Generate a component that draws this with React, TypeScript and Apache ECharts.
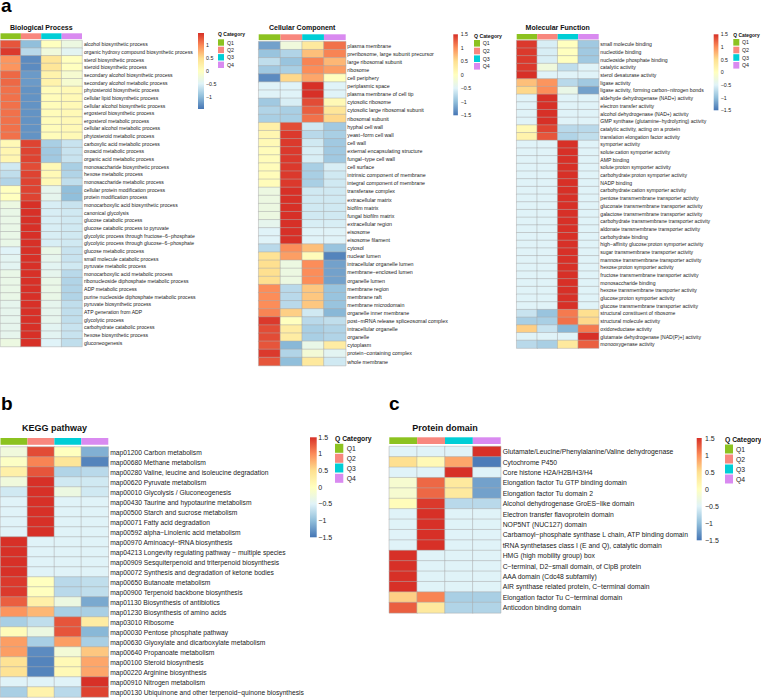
import React, { useEffect, useRef } from "react";
import * as echarts from "echarts";

const qCategories = ["Q1", "Q2", "Q3", "Q4"];
const qColors = ["#8CC220", "#F8877E", "#00CED6", "#D98AF0"];
const heatColors = ["#4575B4", "#91BFDB", "#E0F3F8", "#FFFFBF", "#FEE090", "#FC8D59", "#D73027"];

const bpTerms = [
  "alcohol biosynthetic process",
  "organic hydroxy compound biosynthetic process",
  "sterol biosynthetic process",
  "steroid biosynthetic process",
  "secondary alcohol biosynthetic process",
  "secondary alcohol metabolic process",
  "phytosteroid biosynthetic process",
  "cellular lipid biosynthetic process",
  "cellular alcohol biosynthetic process",
  "ergosterol biosynthetic process",
  "ergosterol metabolic process",
  "cellular alcohol metabolic process",
  "phytosteroid metabolic process",
  "carboxylic acid metabolic process",
  "oxoacid metabolic process",
  "organic acid metabolic process",
  "monosaccharide biosynthetic process",
  "hexose metabolic process",
  "monosaccharide metabolic process",
  "cellular protein modification process",
  "protein modification process",
  "monocarboxylic acid biosynthetic process",
  "canonical glycolysis",
  "glucose catabolic process",
  "glucose catabolic process to pyruvate",
  "glycolytic process through fructose−6−phosphate",
  "glycolytic process through glucose−6−phosphate",
  "glucose metabolic process",
  "small molecule catabolic process",
  "pyruvate metabolic process",
  "monocarboxylic acid metabolic process",
  "ribonucleoside diphosphate metabolic process",
  "ADP metabolic process",
  "purine nucleoside diphosphate metabolic process",
  "pyruvate biosynthetic process",
  "ATP generation from ADP",
  "glycolytic process",
  "carbohydrate catabolic process",
  "hexose biosynthetic process",
  "gluconeogenesis",
];
const bpValues = [
  [1.3, -1.0, 0.0, -0.3],
  [1.45, -0.75, -0.25, -0.45],
  [0.95, -1.35, 0.4, 0.0],
  [0.95, -1.35, 0.4, 0.0],
  [1.2, -1.25, 0.2, -0.15],
  [1.2, -1.25, 0.2, -0.15],
  [1.15, -1.3, 0.05, 0.1],
  [1.15, -1.3, 0.05, 0.1],
  [1.15, -1.3, 0.05, 0.1],
  [1.15, -1.3, 0.05, 0.1],
  [1.15, -1.3, 0.05, 0.1],
  [1.15, -1.3, 0.05, 0.1],
  [1.15, -1.3, 0.05, 0.1],
  [0.1, 1.4, -0.85, -0.65],
  [0.15, 1.4, -0.9, -0.65],
  [0.15, 1.4, -0.9, -0.65],
  [-0.6, 1.35, 0.1, -0.85],
  [-0.7, 1.4, 0.1, -0.8],
  [-0.8, 1.4, 0.1, -0.7],
  [0.0, 1.4, -0.4, -1.0],
  [0.0, 1.4, -0.4, -1.0],
  [-0.3, 1.5, -0.55, -0.65],
  [-0.35, 1.5, -0.55, -0.6],
  [-0.35, 1.5, -0.55, -0.6],
  [-0.35, 1.5, -0.55, -0.6],
  [-0.35, 1.5, -0.55, -0.6],
  [-0.35, 1.5, -0.55, -0.6],
  [-0.5, 1.5, -0.35, -0.65],
  [-0.45, 1.5, -0.4, -0.65],
  [-0.45, 1.5, -0.45, -0.6],
  [-0.35, 1.5, -0.4, -0.75],
  [-0.35, 1.5, -0.35, -0.8],
  [-0.35, 1.5, -0.35, -0.8],
  [-0.35, 1.5, -0.35, -0.8],
  [-0.4, 1.5, -0.4, -0.7],
  [-0.4, 1.5, -0.4, -0.7],
  [-0.4, 1.5, -0.4, -0.7],
  [-0.4, 1.5, -0.45, -0.65],
  [-0.4, 1.5, -0.45, -0.65],
  [-0.3, 1.5, -0.5, -0.7],
];

const ccTerms = [
  "plasma membrane",
  "preribosome, large subunit precursor",
  "large ribosomal subunit",
  "ribosome",
  "cell periphery",
  "periplasmic space",
  "plasma membrane of cell tip",
  "cytosolic ribosome",
  "cytosolic large ribosomal subunit",
  "ribosomal subunit",
  "hyphal cell wall",
  "yeast−form cell wall",
  "cell wall",
  "external encapsulating structure",
  "fungal−type cell wall",
  "cell surface",
  "intrinsic component of membrane",
  "integral component of membrane",
  "transferase complex",
  "extracellular matrix",
  "biofilm matrix",
  "fungal biofilm matrix",
  "extracellular region",
  "eisosome",
  "eisosome filament",
  "cytosol",
  "nuclear lumen",
  "intracellular organelle lumen",
  "membrane−enclosed lumen",
  "organelle lumen",
  "membrane region",
  "membrane raft",
  "membrane microdomain",
  "organelle inner membrane",
  "post−mRNA release spliceosomal complex",
  "intracellular organelle",
  "organelle",
  "cytoplasm",
  "protein−containing complex",
  "whole membrane",
];
const ccValues = [
  [-1.2, -0.25, 0.35, 1.15],
  [-0.95, -0.8, 0.7, 1.05],
  [-0.7, -0.95, 1.05, 0.75],
  [-0.9, -0.85, 1.0, 0.9],
  [-1.35, 0.55, 0.85, 0.0],
  [-0.5, -0.5, 1.5, -0.5],
  [-0.5, -0.5, 1.5, -0.5],
  [-0.9, -0.55, 1.35, 0.1],
  [-0.8, -0.85, 1.25, 0.4],
  [-0.85, -0.85, 1.15, 0.55],
  [0.25, 1.35, -0.6, -0.9],
  [0.15, 1.45, -0.75, -0.85],
  [0.1, 1.45, -0.6, -0.9],
  [0.05, 1.45, -0.55, -0.9],
  [0.05, 1.45, -0.55, -0.9],
  [0.05, 1.45, -0.85, -0.55],
  [0.05, 1.45, -0.85, -0.6],
  [0.05, 1.45, -0.85, -0.6],
  [-0.3, 1.5, -0.6, -0.6],
  [-0.3, 1.5, -0.6, -0.6],
  [-0.3, 1.5, -0.6, -0.6],
  [-0.3, 1.5, -0.6, -0.6],
  [-0.4, 1.5, -0.55, -0.55],
  [-0.5, 1.5, -0.5, -0.5],
  [-0.5, 1.5, -0.5, -0.5],
  [-0.75, 1.0, 0.7, -0.95],
  [0.45, 0.9, 0.05, -1.4],
  [0.5, -0.3, 1.0, -1.2],
  [0.5, -0.3, 1.0, -1.2],
  [0.5, -0.3, 1.0, -1.2],
  [1.0, -0.75, 0.65, -0.95],
  [1.0, -0.75, 0.65, -0.95],
  [1.0, -0.75, 0.65, -0.95],
  [1.05, 0.6, -0.6, -1.05],
  [1.45, 0.0, -0.75, -0.7],
  [1.35, 0.3, -0.85, -0.8],
  [1.35, 0.3, -0.85, -0.8],
  [1.3, -1.05, -0.35, 0.3],
  [1.45, -0.8, -0.2, -0.45],
  [1.3, -1.0, 0.35, -0.6],
];

const mfTerms = [
  "small molecule binding",
  "nucleotide binding",
  "nucleoside phosphate binding",
  "catalytic activity",
  "sterol desaturase activity",
  "ligase activity",
  "ligase activity, forming carbon−nitrogen bonds",
  "aldehyde dehydrogenase (NAD+) activity",
  "electron transfer activity",
  "alcohol dehydrogenase (NAD+) activity",
  "GMP synthase (glutamine−hydrolyzing) activity",
  "catalytic activity, acting on a protein",
  "translation elongation factor activity",
  "symporter activity",
  "solute:cation symporter activity",
  "AMP binding",
  "solute:proton symporter activity",
  "carbohydrate:proton symporter activity",
  "NADP binding",
  "carbohydrate:cation symporter activity",
  "pentose transmembrane transporter activity",
  "gluconate transmembrane transporter activity",
  "galactose transmembrane transporter activity",
  "carbohydrate transmembrane transporter activity",
  "aldonate transmembrane transporter activity",
  "carbohydrate binding",
  "high−affinity glucose:proton symporter activity",
  "sugar transmembrane transporter activity",
  "mannose transmembrane transporter activity",
  "hexose:proton symporter activity",
  "fructose transmembrane transporter activity",
  "monosaccharide binding",
  "hexose transmembrane transporter activity",
  "glucose:proton symporter activity",
  "glucose transmembrane transporter activity",
  "structural constituent of ribosome",
  "structural molecule activity",
  "oxidoreductase activity",
  "glutamate dehydrogenase [NAD(P)+] activity",
  "monooxygenase activity",
];
const mfValues = [
  [1.45, -0.55, 0.0, -0.9],
  [1.45, -0.55, 0.0, -0.9],
  [1.45, -0.55, 0.0, -0.9],
  [1.45, -0.25, -0.7, -0.5],
  [1.5, -0.5, -0.5, -0.5],
  [0.7, 0.95, -0.75, -0.9],
  [0.55, 1.0, -0.35, -1.2],
  [-0.5, 1.5, -0.5, -0.5],
  [-0.5, 1.5, -0.5, -0.5],
  [-0.5, 1.5, -0.5, -0.5],
  [-0.5, 1.5, -0.5, -0.5],
  [0.1, 1.4, -0.75, -0.75],
  [0.2, 1.3, -0.8, -0.7],
  [-0.5, -0.5, 1.5, -0.5],
  [-0.5, -0.5, 1.5, -0.5],
  [-0.5, -0.5, 1.5, -0.5],
  [-0.5, -0.5, 1.5, -0.5],
  [-0.5, -0.5, 1.5, -0.5],
  [-0.5, -0.5, 1.5, -0.5],
  [-0.5, -0.5, 1.5, -0.5],
  [-0.5, -0.5, 1.5, -0.5],
  [-0.5, -0.5, 1.5, -0.5],
  [-0.5, -0.5, 1.5, -0.5],
  [-0.5, -0.5, 1.5, -0.5],
  [-0.5, -0.5, 1.5, -0.5],
  [-0.5, -0.5, 1.5, -0.5],
  [-0.5, -0.5, 1.5, -0.5],
  [-0.5, -0.5, 1.5, -0.5],
  [-0.5, -0.5, 1.5, -0.5],
  [-0.5, -0.5, 1.5, -0.5],
  [-0.5, -0.5, 1.5, -0.5],
  [-0.5, -0.5, 1.5, -0.5],
  [-0.5, -0.5, 1.5, -0.5],
  [-0.5, -0.5, 1.5, -0.5],
  [-0.5, -0.5, 1.5, -0.5],
  [-0.65, -0.95, 1.1, 0.5],
  [-0.85, -0.85, 1.15, 0.55],
  [0.6, -0.65, -1.05, 1.1],
  [-0.5, -0.5, -0.5, 1.5],
  [-0.75, -0.85, 0.35, 1.25],
];

const keggTerms = [
  "map01200 Carbon metabolism",
  "map00680 Methane metabolism",
  "map00280 Valine, leucine and isoleucine degradation",
  "map00620 Pyruvate metabolism",
  "map00010 Glycolysis / Gluconeogenesis",
  "map00430 Taurine and hypotaurine metabolism",
  "map00500 Starch and sucrose metabolism",
  "map00071 Fatty acid degradation",
  "map00592 alpha−Linolenic acid metabolism",
  "map00970 Aminoacyl−tRNA biosynthesis",
  "map04213 Longevity regulating pathway − multiple species",
  "map00909 Sesquiterpenoid and triterpenoid biosynthesis",
  "map00072 Synthesis and degradation of ketone bodies",
  "map00650 Butanoate metabolism",
  "map00900 Terpenoid backbone biosynthesis",
  "map01130 Biosynthesis of antibiotics",
  "map01230 Biosynthesis of amino acids",
  "map03010 Ribosome",
  "map00030 Pentose phosphate pathway",
  "map00630 Glyoxylate and dicarboxylate metabolism",
  "map00640 Propanoate metabolism",
  "map00100 Steroid biosynthesis",
  "map00220 Arginine biosynthesis",
  "map00910 Nitrogen metabolism",
  "map00130 Ubiquinone and other terpenoid−quinone biosynthesis",
];
const keggValues = [
  [-0.25, 1.35, 0.0, -1.1],
  [-0.05, 1.05, 0.4, -1.4],
  [0.25, 1.3, -0.8, -0.75],
  [-0.25, 1.5, -0.6, -0.6],
  [-0.6, 1.5, -0.3, -0.6],
  [-0.5, 1.5, -0.5, -0.5],
  [-0.5, 1.5, -0.5, -0.5],
  [-0.5, 1.5, -0.5, -0.5],
  [-0.5, 1.5, -0.5, -0.5],
  [1.5, -0.5, -0.5, -0.5],
  [1.5, -0.5, -0.5, -0.5],
  [1.5, -0.5, -0.5, -0.5],
  [1.5, -0.5, -0.5, -0.5],
  [1.45, 0.0, -0.75, -0.7],
  [1.45, 0.0, -0.75, -0.7],
  [1.25, 0.25, -0.3, -1.15],
  [0.95, 0.75, -0.85, -0.85],
  [-0.85, -0.7, 1.3, 0.3],
  [0.05, -0.3, 1.3, -1.05],
  [0.9, -0.85, 0.9, -0.85],
  [0.9, -1.35, -0.2, 0.65],
  [0.45, -1.4, 0.1, 0.85],
  [0.45, -1.4, 0.1, 0.85],
  [-0.5, -0.5, -0.5, 1.5],
  [-0.85, 0.2, -0.75, 1.4],
];

const protTerms = [
  "Glutamate/Leucine/Phenylalanine/Valine dehydrogenase",
  "Cytochrome P450",
  "Core histone H2A/H2B/H3/H4",
  "Elongation factor Tu GTP binding domain",
  "Elongation factor Tu domain 2",
  "Alcohol dehydrogenase GroES−like domain",
  "Electron transfer flavoprotein domain",
  "NOP5NT (NUC127) domain",
  "Carbamoyl−phosphate synthase L chain, ATP binding domain",
  "tRNA synthetases class I (E and Q), catalytic domain",
  "HMG (high mobility group) box",
  "C−terminal, D2−small domain, of ClpB protein",
  "AAA domain (Cdc48 subfamily)",
  "AIR synthase related protein, C−terminal domain",
  "Elongation factor Tu C−terminal domain",
  "Anticodon binding domain",
];
const protValues = [
  [-0.5, -0.5, -0.5, 1.5],
  [0.5, 0.1, 0.85, -1.45],
  [-0.5, -0.5, 1.5, -0.5],
  [-0.15, 1.2, 0.35, -1.2],
  [-0.15, 1.2, 0.35, -1.2],
  [0.05, 1.45, -0.75, -0.75],
  [-0.5, 1.5, -0.5, -0.5],
  [-0.5, 1.5, -0.5, -0.5],
  [-0.5, 1.5, -0.5, -0.5],
  [-0.5, 1.5, -0.5, -0.5],
  [1.5, -0.5, -0.5, -0.5],
  [1.5, -0.5, -0.5, -0.5],
  [1.5, -0.5, -0.5, -0.5],
  [1.5, -0.5, -0.5, -0.5],
  [0.6, 1.05, -0.85, -0.85],
  [1.25, 0.35, -0.8, -0.8],
];

const bpTicks = [1, 0.5, 0, -0.5, -1];
const fullTicks = [1.5, 1, 0.5, 0, -0.5, -1, -1.5];

const FONT = "'Liberation Sans', Arial, Helvetica, sans-serif";

// layout (positions/styles only)
const panels = [
  {
    title: "Biological Process", terms: bpTerms, values: bpValues,
    grid: { left: 0.5, top: 40.5, width: 81.5, height: 306 },
    anno: { top: 33.3, height: 5.8 }, titleY: 27.7, titleSize: 7, labelSize: 5.1, labelMargin: 2,
    bar: { x: 198, y: 33, w: 6, h: 76, m: 1.49, labX: 206, font: 5.3, ticks: bpTicks },
    q: { x: 218, titleY: 34.3, ys: [42.5, 49.9, 57.3, 64.8], w: 6, h: 6.4, labX: 227, font: 5.3, titleFont: 5 },
  },
  {
    title: "Cellular Component", terms: ccTerms, values: ccValues,
    grid: { left: 258.7, top: 41.6, width: 87, height: 324 },
    anno: { top: 34.3, height: 5.8 }, titleY: 27.7, titleSize: 7, labelSize: 5.3, labelMargin: 1.6,
    bar: { x: 453.3, y: 34.3, w: 4.6, h: 81, m: 1.5, labX: 460.7, font: 5.3, ticks: fullTicks },
    q: { x: 474, titleY: 36, ys: [43.3, 51, 58.7, 66.3], w: 6, h: 6.6, labX: 482.7, font: 5.3, titleFont: 5.2 },
  },
  {
    title: "Molecular Function", terms: mfTerms, values: mfValues,
    grid: { left: 516.7, top: 40.5, width: 82, height: 307.6 },
    anno: { top: 34, height: 5.4 }, titleY: 27.7, titleSize: 7, labelSize: 5.1, labelMargin: 1.6,
    bar: { x: 713.7, y: 34.3, w: 4.7, h: 76, m: 1.5, labX: 720.7, font: 5.3, ticks: fullTicks },
    q: { x: 733.3, titleY: 35.7, ys: [42.3, 50, 57.5, 65.3], w: 6, h: 6.6, labX: 742, font: 5.3, titleFont: 4.9 },
  },
  {
    title: "KEGG pathway", terms: keggTerms, values: keggValues,
    grid: { left: 0.5, top: 447, width: 107.8, height: 250 },
    anno: { top: 438, height: 6.8 }, titleY: 428, titleSize: 9, labelSize: 6.7, labelMargin: 2,
    bar: { x: 310, y: 437.3, w: 6.7, h: 100, m: 1.5, labX: 318.3, font: 7, ticks: fullTicks },
    q: { x: 335, titleY: 438.8, ys: [448.3, 458.3, 468, 478.3], w: 8.3, h: 9, labX: 346.7, font: 6.8, titleFont: 6.8 },
  },
  {
    title: "Protein domain", terms: protTerms, values: protValues,
    grid: { left: 389.3, top: 446.5, width: 111.4, height: 166.4 },
    anno: { top: 437.3, height: 6.7 }, titleY: 428, titleSize: 9, labelSize: 6.8, labelMargin: 2,
    bar: { x: 696.7, y: 438, w: 5, h: 102.3, m: 1.5, labX: 705, font: 7, ticks: fullTicks },
    q: { x: 725, titleY: 439.3, ys: [449, 459, 469, 479], w: 8, h: 9, labX: 736, font: 6.8, titleFont: 6.8 },
  },
];

const panelLetters = [
  { text: "a", x: 1, y: 5.6 },
  { text: "b", x: 1, y: 403.5 },
  { text: "c", x: 389, y: 403.5 },
];

function fmt(v: number) {
  if (v < 0) return "−" + String(Math.abs(v));
  return String(v);
}

function buildOption() {
  const grid: any[] = [];
  const xAxis: any[] = [];
  const yAxis: any[] = [];
  const series: any[] = [];
  const graphic: any[] = [];
  const heatIdx: number[] = [];

  panels.forEach((p) => {
    const gHeat = grid.length;
    grid.push({ left: p.grid.left, top: p.grid.top, width: p.grid.width, height: p.grid.height, containLabel: false });
    const gAnno = grid.length;
    grid.push({ left: p.grid.left, top: p.anno.top, width: p.grid.width, height: p.anno.height, containLabel: false });

    const xh = xAxis.length;
    xAxis.push({ type: "category", gridIndex: gHeat, data: qCategories, show: false });
    const yh = yAxis.length;
    yAxis.push({
      type: "category", gridIndex: gHeat, data: p.terms, inverse: true, position: "right",
      axisLine: { show: false }, axisTick: { show: false }, splitLine: { show: false },
      axisLabel: { interval: 0, fontSize: p.labelSize, fontFamily: FONT, color: "#1a1a1a", margin: p.labelMargin },
    });
    const xa = xAxis.length;
    xAxis.push({ type: "category", gridIndex: gAnno, data: qCategories, show: false });
    const ya = yAxis.length;
    yAxis.push({ type: "value", gridIndex: gAnno, min: 0, max: 1, show: false });

    const data: any[] = [];
    p.values.forEach((row, r) => row.forEach((v, c) => data.push([c, r, v])));
    heatIdx.push(series.length);
    series.push({
      type: "heatmap", xAxisIndex: xh, yAxisIndex: yh, data,
      itemStyle: { borderColor: "#aaaaaa", borderWidth: 0.5 },
      emphasis: { disabled: true },
    });
    series.push({
      type: "bar", xAxisIndex: xa, yAxisIndex: ya, barCategoryGap: "0%",
      data: qCategories.map((q, j) => ({ value: 1, itemStyle: { color: qColors[j] } })),
      silent: true,
    });

    graphic.push({
      type: "text", x: p.grid.left + p.grid.width / 2, y: p.titleY,
      style: { text: p.title, fontSize: p.titleSize, fontWeight: "bold", fontFamily: FONT, fill: "#111", align: "center", verticalAlign: "middle" },
    });

    const b = p.bar;
    graphic.push({
      type: "rect", shape: { x: b.x, y: b.y, width: b.w, height: b.h },
      style: {
        fill: new echarts.graphic.LinearGradient(0, 0, 0, 1,
          heatColors.slice().reverse().map((c, i) => ({ offset: i / (heatColors.length - 1), color: c }))),
      },
    });
    b.ticks.forEach((t) => {
      graphic.push({
        type: "text", x: b.labX, y: b.y + ((b.m - t) / (2 * b.m)) * b.h,
        style: { text: fmt(t), fontSize: b.font, fontFamily: FONT, fill: "#222", align: "left", verticalAlign: "middle" },
      });
    });

    const q = p.q;
    graphic.push({
      type: "text", x: q.x, y: q.titleY,
      style: { text: "Q Category", fontSize: q.titleFont, fontWeight: "bold", fontFamily: FONT, fill: "#111", align: "left", verticalAlign: "middle" },
    });
    qCategories.forEach((name, j) => {
      graphic.push({
        type: "rect", shape: { x: q.x, y: q.ys[j] - q.h / 2, width: q.w, height: q.h },
        style: { fill: qColors[j] },
      });
      graphic.push({
        type: "text", x: q.labX, y: q.ys[j],
        style: { text: name, fontSize: q.font, fontFamily: FONT, fill: "#222", align: "left", verticalAlign: "middle" },
      });
    });
  });

  panelLetters.forEach((l) => {
    graphic.push({
      type: "text", x: l.x, y: l.y,
      style: { text: l.text, fontSize: 19, fontWeight: "bold", fontFamily: FONT, fill: "#000", align: "left", verticalAlign: "middle" },
    });
  });

  return {
    animation: false,
    backgroundColor: "#ffffff",
    grid, xAxis, yAxis, series, graphic,
    visualMap: {
      type: "continuous", show: false, min: -1.5, max: 1.5, seriesIndex: heatIdx,
      inRange: { color: heatColors },
    },
  };
}

export default function App() {
  const ref = useRef<HTMLDivElement>(null);
  useEffect(() => {
    if (!ref.current) return;
    const chart = echarts.init(ref.current, undefined, { renderer: "svg" });
    chart.setOption(buildOption() as any);
    return () => chart.dispose();
  }, []);
  return (
    <div
      ref={ref}
      style={{ position: "fixed", left: 0, top: 0, width: 761, height: 699, background: "#fff" }}
    />
  );
}
